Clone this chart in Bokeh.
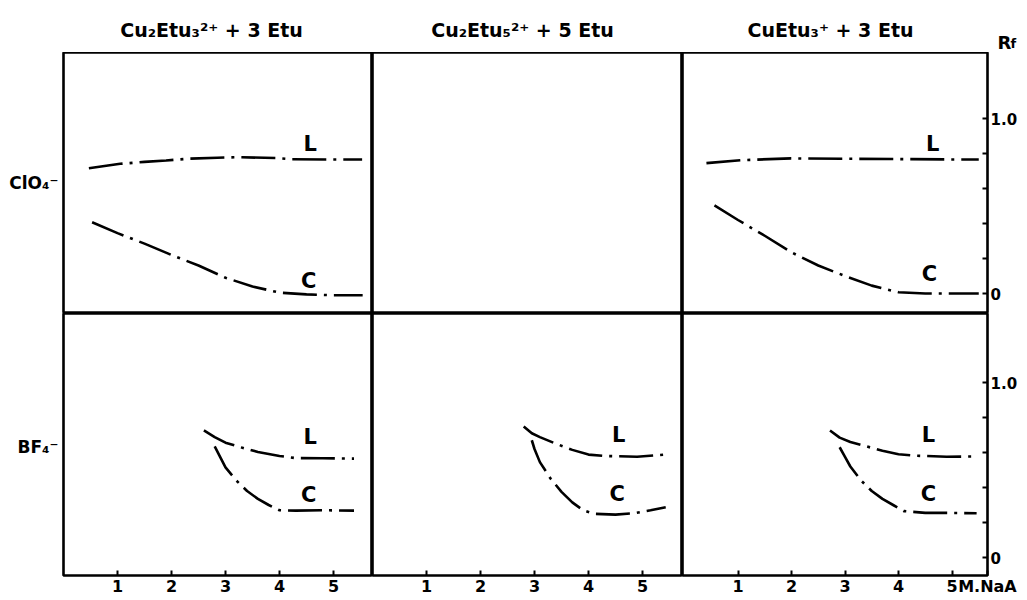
from bokeh.plotting import figure
from bokeh.layouts import gridplot, column
from bokeh.models import Range1d, FixedTicker, ColumnDataSource, AllLabels
from bokeh.core.properties import value
from bokeh.embed import file_html
from bokeh.resources import INLINE

# ---------------- data ----------------
col_titles = ["Cu₂Etu₃²⁺ + 3 Etu", "Cu₂Etu₅²⁺ + 5 Etu", "CuEtu₃⁺ + 3 Etu"]
row_labels = ["ClO₄⁻", "BF₄⁻"]
x_ticks = [1, 2, 3, 4, 5]
y_ticks = [0, 0.2, 0.4, 0.6, 0.8, 1.0]
y_tick_labels = {0: "0", 0.2: "", 0.4: "", 0.6: "", 0.8: "", 1.0: "1.0"}
x_unit = "M.NaA"
y_name = ("R", "f")

# ClO4- row
clo4_c1_L_x = [0.47, 1.05, 1.5, 1.9, 2.3, 2.85, 3.22, 3.96, 4.23, 4.94, 5.53]
clo4_c1_L_y = [0.716, 0.741, 0.752, 0.760, 0.770, 0.776, 0.779, 0.774, 0.767, 0.766, 0.766]
clo4_c1_C_x = [0.53, 1.0, 1.5, 2.0, 2.5, 3.0, 3.5, 4.0, 4.5, 5.0, 5.54]
clo4_c1_C_y = [0.407, 0.345, 0.285, 0.22, 0.16, 0.09, 0.04, 0.005, -0.005, -0.01, -0.01]
clo4_c3_L_x = [0.41, 1.06, 1.99, 2.99, 4.05, 4.98, 5.5]
clo4_c3_L_y = [0.745, 0.762, 0.772, 0.770, 0.768, 0.766, 0.766]
clo4_c3_C_x = [0.56, 1.0, 1.5, 2.0, 2.5, 3.0, 3.5, 4.0, 4.5, 5.0, 5.5]
clo4_c3_C_y = [0.503, 0.42, 0.33, 0.235, 0.16, 0.10, 0.045, 0.007, 0.0, 0.0, 0.0]

# BF4- row
bf4_c1_L_x = [2.6, 2.8, 3.0, 3.3, 3.6, 4.0, 4.3, 4.8, 5.38]
bf4_c1_L_y = [0.726, 0.688, 0.656, 0.628, 0.603, 0.58, 0.568, 0.567, 0.565]
bf4_c1_C_x = [2.8, 2.9, 3.0, 3.2, 3.4, 3.6, 3.8, 4.0, 4.3, 4.8, 5.38]
bf4_c1_C_y = [0.635, 0.575, 0.515, 0.44, 0.38, 0.335, 0.30, 0.27, 0.268, 0.27, 0.268]
bf4_c2_L_x = [2.8, 2.95, 3.1, 3.4, 3.7, 4.0, 4.3, 4.9, 5.43]
bf4_c2_L_y = [0.749, 0.71, 0.688, 0.65, 0.615, 0.588, 0.58, 0.576, 0.588]
bf4_c2_C_x = [2.95, 3.0, 3.1, 3.3, 3.5, 3.7, 3.9, 4.1, 4.5, 4.85, 5.15, 5.43]
bf4_c2_C_y = [0.67, 0.62, 0.545, 0.45, 0.375, 0.315, 0.27, 0.25, 0.245, 0.253, 0.27, 0.287]
bf4_c3_L_x = [2.72, 2.9, 3.1, 3.4, 3.7, 4.0, 4.3, 4.9, 5.43]
bf4_c3_L_y = [0.726, 0.685, 0.66, 0.635, 0.61, 0.59, 0.582, 0.576, 0.577]
bf4_c3_C_x = [2.9, 3.0, 3.1, 3.3, 3.5, 3.7, 3.9, 4.1, 4.5, 4.9, 5.46]
bf4_c3_C_y = [0.63, 0.575, 0.52, 0.44, 0.38, 0.335, 0.30, 0.265, 0.255, 0.255, 0.253]

# curve tags (L / C) positions
tag_text = ["L", "C"]
clo4_c1_tag_x = [4.57, 4.54]; clo4_c1_tag_y = [0.855, 0.074]
clo4_c3_tag_x = [4.64, 4.58]; clo4_c3_tag_y = [0.855, 0.11]
bf4_c1_tag_x = [4.57, 4.54]; bf4_c1_tag_y = [0.69, 0.355]
bf4_c2_tag_x = [4.56, 4.53]; bf4_c2_tag_y = [0.70, 0.365]
bf4_c3_tag_x = [4.56, 4.56]; bf4_c3_tag_y = [0.70, 0.365]

# ---------------- layout / style ----------------
FONT = "DejaVu Sans"
W, HEAD = 1027, 52
LEFT, RIGHT, BOTTOM = 63, 40, 25
COL_W = [309, 310, 305]
ROW_H = [261, 262]
X_RANGES = [(0, 309 / 54.0), (0, 310 / 54.0), (-2 / 53.5, 303 / 53.5)]
Y_RANGES = [(-20 / 175.0, 241 / 175.0), (-18 / 175.0, 244 / 175.0)]
ROW_LABEL_Y = 0.63
UNIT_TICK = 5.663  # position of the unit text, at the right end of the last panel
DASH = "34 7 3 7"
LW = 2.6
BLACK = "black"


def style_axis(ax, size):
    ax.axis_line_color = None
    ax.major_tick_line_color = BLACK
    ax.major_tick_in = 5
    ax.major_tick_out = 0
    ax.major_tick_line_width = 2
    ax.minor_tick_line_color = None
    ax.major_label_text_font = FONT
    ax.major_label_text_font_style = "bold"
    ax.major_label_text_font_size = size
    ax.major_label_text_color = BLACK
    ax.major_label_policy = AllLabels()


def make_fig(r, c):
    w = COL_W[c] + (LEFT if c == 0 else 0) + (RIGHT if c == 2 else 0)
    h = ROW_H[r] + (BOTTOM if r == 1 else 0)
    p = figure(width=w, height=h, output_backend="svg", toolbar_location=None,
               x_range=Range1d(*X_RANGES[c]), y_range=Range1d(*Y_RANGES[r]),
               x_axis_location=("below" if r == 1 else None),
               y_axis_location=("right" if c == 2 else ("left" if c == 0 else None)))
    p.min_border_left = LEFT if c == 0 else 0
    p.min_border_right = RIGHT if c == 2 else 0
    p.min_border_top = 0
    p.min_border_bottom = BOTTOM if r == 1 else 0
    p.grid.visible = False
    p.outline_line_color = BLACK
    p.outline_line_width = 2.6
    p.background_fill_color = "white"
    p.border_fill_color = "white"
    if r == 1:
        ax = p.xaxis[0]
        style_axis(ax, "16px")
        if c == 2:
            ax.ticker = FixedTicker(ticks=x_ticks + [UNIT_TICK])
            ax.major_label_overrides = {UNIT_TICK: x_unit}
            ax.major_label_standoff = 1
        else:
            ax.ticker = FixedTicker(ticks=x_ticks)
            ax.major_label_standoff = 4
    if c == 2:
        ay = p.yaxis[0]
        style_axis(ay, "15px")
        ay.ticker = FixedTicker(ticks=y_ticks)
        ay.major_label_overrides = y_tick_labels
        ay.major_label_standoff = 3
    if c == 0:
        ay = p.yaxis[0]
        style_axis(ay, "17px")
        ay.major_tick_line_color = None
        ay.ticker = FixedTicker(ticks=[ROW_LABEL_Y])
        ay.major_label_overrides = {ROW_LABEL_Y: row_labels[r]}
        ay.major_label_standoff = 5
    return p


def add_curve(p, xs, ys):
    p.line(xs, ys, line_color=BLACK, line_width=LW, line_dash=DASH)


def add_tags(p, xs, ys):
    src = ColumnDataSource(dict(x=xs, y=ys, t=tag_text))
    p.text(x="x", y="y", text="t", source=src, text_font=value(FONT),
           text_font_style="bold", text_font_size="21px", text_align="center",
           text_baseline="middle", text_color=BLACK)


figs = [[make_fig(r, c) for c in range(3)] for r in range(2)]

# ClO4- row
add_curve(figs[0][0], clo4_c1_L_x, clo4_c1_L_y)
add_curve(figs[0][0], clo4_c1_C_x, clo4_c1_C_y)
add_tags(figs[0][0], clo4_c1_tag_x, clo4_c1_tag_y)
add_curve(figs[0][2], clo4_c3_L_x, clo4_c3_L_y)
add_curve(figs[0][2], clo4_c3_C_x, clo4_c3_C_y)
add_tags(figs[0][2], clo4_c3_tag_x, clo4_c3_tag_y)

# BF4- row
add_curve(figs[1][0], bf4_c1_L_x, bf4_c1_L_y)
add_curve(figs[1][0], bf4_c1_C_x, bf4_c1_C_y)
add_tags(figs[1][0], bf4_c1_tag_x, bf4_c1_tag_y)
add_curve(figs[1][1], bf4_c2_L_x, bf4_c2_L_y)
add_curve(figs[1][1], bf4_c2_C_x, bf4_c2_C_y)
add_tags(figs[1][1], bf4_c2_tag_x, bf4_c2_tag_y)
add_curve(figs[1][2], bf4_c3_L_x, bf4_c3_L_y)
add_curve(figs[1][2], bf4_c3_C_x, bf4_c3_C_y)
add_tags(figs[1][2], bf4_c3_tag_x, bf4_c3_tag_y)

# header strip with the column titles and the R_f axis name (pixel coordinates)
head = figure(width=W, height=HEAD, output_backend="svg", toolbar_location=None,
              x_range=Range1d(0, W), y_range=Range1d(HEAD, 0),
              x_axis_location=None, y_axis_location=None, min_border=0)
head.grid.visible = False
head.outline_line_color = None
head.background_fill_color = "white"
head.border_fill_color = "white"
title_src = ColumnDataSource(dict(x=[211, 522, 830], y=[29, 29, 29], t=col_titles))
head.text(x="x", y="y", text="t", source=title_src, text_font=value(FONT),
          text_font_style="bold", text_font_size="19px", text_align="center",
          text_baseline="alphabetic", text_color=BLACK)
head.text(x=[997], y=[42], text=[y_name[0]], text_font=value(FONT), text_font_style="bold",
          text_font_size="18px", text_align="left", text_baseline="alphabetic", text_color=BLACK)
head.text(x=[1010], y=[43], text=[y_name[1]], text_font=value(FONT), text_font_style="bold",
          text_font_size="13px", text_align="left", text_baseline="alphabetic", text_color=BLACK)

grid = gridplot(figs, toolbar_location=None)
layout = column(head, grid)

open("out.html", "w").write(file_html(layout, INLINE))
